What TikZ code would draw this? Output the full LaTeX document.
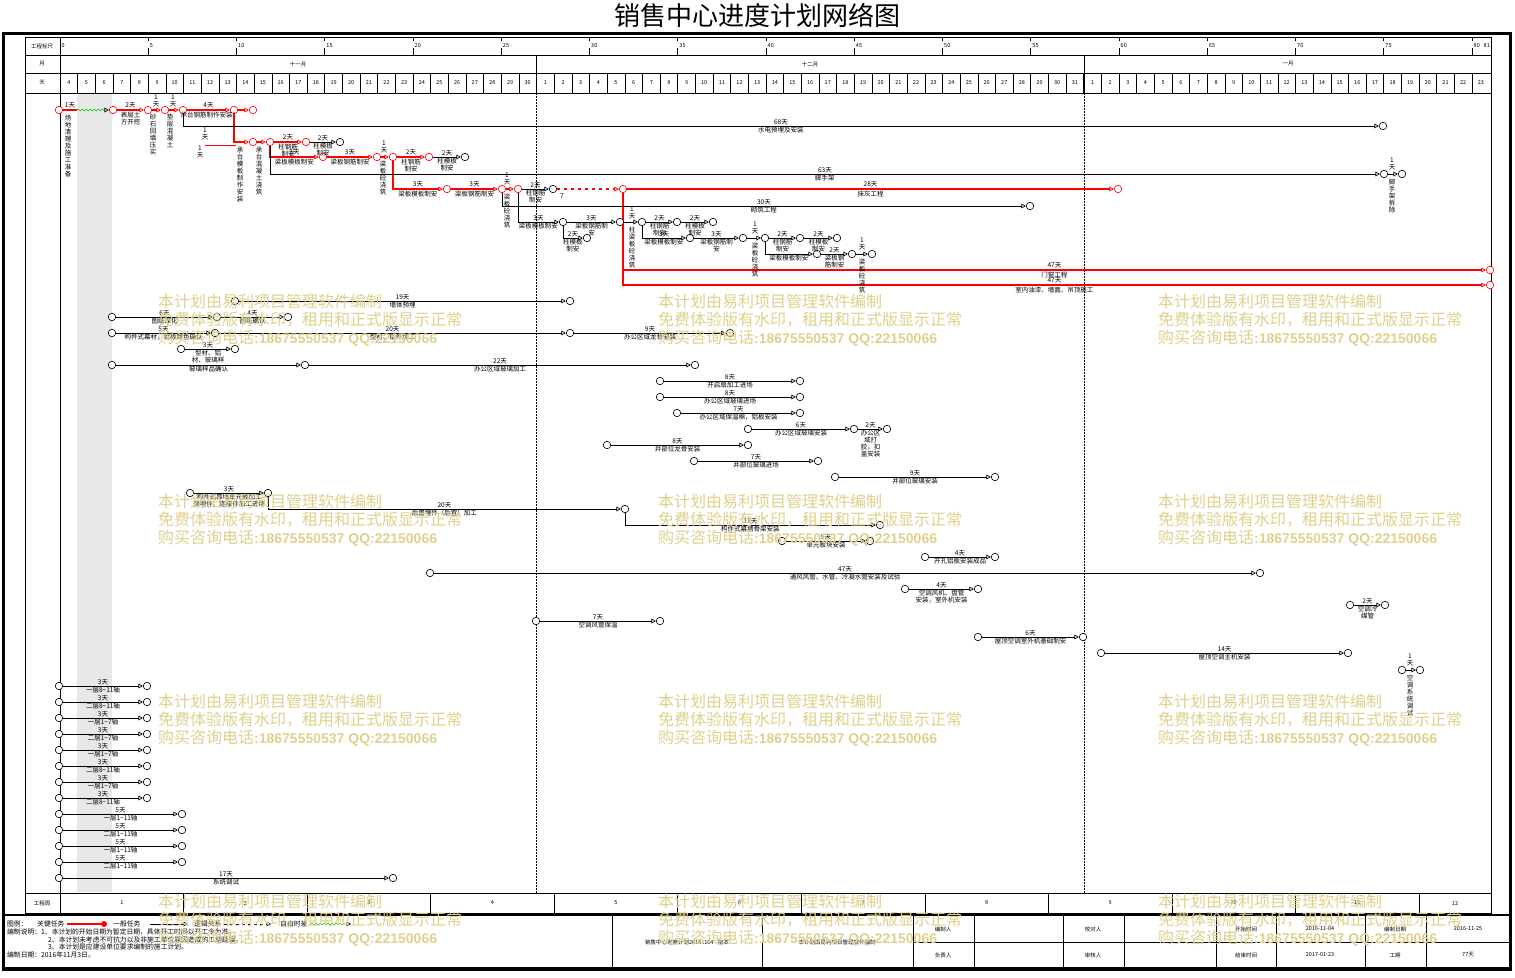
\documentclass[tikz,border=0pt]{standalone}
\usepackage{fontspec}
\setmainfont{Noto Sans CJK SC}
\newfontfamily\wmlat{Liberation Sans}
\usetikzlibrary{arrows.meta,decorations.pathmorphing}
\XeTeXlinebreaklocale "zh"
\XeTeXlinebreakskip = 0pt plus 1pt
\newcommand{\tld}{\textasciitilde}
\definecolor{wmark}{RGB}{222,208,140}
\definecolor{fgreen}{RGB}{0,200,0}
\tikzset{
  ev/.style={circle,draw,fill=white,inner sep=0pt,minimum size=7.5pt,line width=0.6pt},
  evk/.style={ev,draw=red},
  act/.style={draw,line width=0.7pt,-{Triangle[open,length=4.5pt,width=4.5pt,line width=0.6pt]}},
  crit/.style={draw=red,line width=2.8pt,-{Triangle[open,length=4.5pt,width=4.5pt,line width=0.7pt]}},
  slack/.style={draw=fgreen,line width=0.6pt,decorate,decoration={snake,amplitude=0.9pt,segment length=4pt,post length=5pt},-{Triangle[open,length=4.5pt,width=4.5pt,line width=0.6pt,color=black]}},
  dur/.style={font=\fontsize{6.5}{7}\selectfont,above=0.5pt,inner sep=0.5pt},
  nm/.style={font=\fontsize{6.5}{7}\selectfont,below=0.5pt,inner sep=0.5pt,align=center},
  vl/.style={font=\fontsize{6.5}{7}\selectfont,text width=7pt,align=center,inner sep=0pt,anchor=north},
  vd/.style={vl,anchor=south},
  hd/.style={font=\fontsize{5.5}{6}\selectfont,inner sep=0pt},
  lg/.style={font=\fontsize{6.8}{7}\selectfont,inner sep=0pt,anchor=west},
  wm/.style={font=\fontsize{16}{16}\selectfont,text=wmark,anchor=west,inner sep=0pt},
}
\begin{document}
\begin{tikzpicture}[x=1pt,y=-1pt]
\useasboundingbox (0,0) rectangle (1515,977);
\node[font=\fontsize{26}{26}\selectfont] (title) at (757,15) {销售中心进度计划网络图};

% frame and time scale
\fill[black!9] (77,94) rectangle (112,892);
\draw[line width=3.5pt] (3.5,33.5) rectangle (1510.5,969);
\draw[line width=0.8pt] (25,37) rectangle (1491,913);
\draw[line width=0.8pt] (25,55) -- (1491,55) (25,73) -- (1491,73) (25,93) -- (1491,93) (25,893) -- (1491,893);
\draw[line width=0.8pt] (60,37) -- (60,913);
\draw[line width=0.8pt] (536,55) -- (536,93) (1084,55) -- (1084,93);
\draw[line width=0.6pt,dash pattern=on 1.5pt off 1.5pt] (536,93) -- (536,893) (1084,93) -- (1084,893);
\node[hd] (h1) at (42,46) {工程标尺};
\node[hd] (h2) at (42,64) {月};
\node[hd] (h3) at (42,83) {天};
\node[hd] (h4) at (42,903) {工程周};
\node[hd] (mo1) at (298,64) {十一月};
\node[hd] (mo2) at (810,64) {十二月};
\node[hd] (mo3) at (1288,64) {一月};
\foreach \t in {0,5,...,80}{
  \draw[line width=0.8pt] ({60+\t*17.65},37) -- ({60+\t*17.65},41) ({60+\t*17.65},48) -- ({60+\t*17.65},55);
  \node[hd,anchor=west] (sc\t) at ({61.5+\t*17.65},46) {\t};
}
\node[hd,anchor=east] (sc81) at (1490,46) {81};
\foreach \i in {1,...,80}
  \draw[line width=0.6pt] ({60+\i*17.65},73) -- ({60+\i*17.65},93);
\foreach \i in {0,...,80}{
  \pgfmathtruncatemacro\dd{\i<27 ? \i+4 : (\i<58 ? \i-26 : \i-57)}
  \node[hd] (dy\i) at ({60+(\i+0.5)*17.65},83) {\dd};
}
\foreach \k in {1,...,11}{
  \draw[line width=0.6pt] ({60+7*\k*17.65},893) -- ({60+7*\k*17.65},913);
  \node[hd] (wk\k) at ({60+(7*\k-3.5)*17.65},903) {\k};
}
\node[hd] (wk12) at (1455,903) {12};

% critical path
\node[evk] (k1) at (59,110) {};
\node[evk] (k2) at (113,110) {};
\node[evk] (k3) at (148,110) {};
\node[evk] (k4) at (165,110) {};
\node[evk] (k5) at (183,110) {};
\node[evk] (k6) at (234,110) {};
\node[evk] (k7) at (253,110) {};
\node[evk] (k8) at (253,142) {};
\node[evk] (k9) at (270,142) {};
\node[evk] (k10) at (306,142) {};
\node[ev] (k11) at (340,142) {};
\node[evk] (k12) at (323,157) {};
\node[evk] (k13) at (377,157) {};
\node[evk] (k14) at (393,157) {};
\node[evk] (k15) at (429,157) {};
\node[ev] (k16) at (465,157) {};
\node[evk] (k17) at (447,189) {};
\node[evk] (k18) at (502,189) {};
\node[evk] (k19) at (518,189) {};
\node[ev] (k20) at (553,189) {};
\node[evk] (k21) at (623,189) {};
\node[evk] (k22) at (1118,189) {};
\node[evk] (k23) at (1490,270) {};
\node[evk] (k24) at (1490,285) {};
\coordinate (f1) at (77,110);

\draw[crit,-] (k1) -- (f1) node[dur,midway] {1天};
\draw[slack] (f1) -- (k2);
\draw[crit] (k2) -- (k3) node[dur,midway] {2天} node[nm,midway] {表层土\\方开挖};
\draw[crit] (k3) -- (k4);
\draw[crit] (k4) -- (k5);
\draw[crit] (k5) -- (k6) node[dur,midway] {4天} node[nm,midway] {承台钢筋制作安装1};
\draw[crit] (k6) -- (k7);
\draw[crit] (k6) |- (k8);
\draw[crit] (k8) -- (k9);
\draw[crit] (k9) -- (k10) node[dur,midway] {2天} node[nm,midway] {柱钢筋\\制安};
\draw[act] (k10) -- (k11) node[dur,midway] {2天} node[nm,midway] {柱模板\\制安};
\draw[crit] (k9) |- (k12) node[dur,pos=0.75] {3天} node[nm,pos=0.75] {梁板模板制安};
\draw[crit] (k12) -- (k13) node[dur,midway] {3天} node[nm,midway] {梁板钢筋制安};
\draw[crit] (k13) -- (k14);
\draw[crit] (k14) -- (k15) node[dur,midway] {2天} node[nm,midway] {柱钢筋\\制安};
\draw[act] (k15) -- (k16) node[dur,midway] {2天} node[nm,midway] {柱模板\\制安};
\draw[crit] (k14) |- (k17) node[dur,pos=0.75] {3天} node[nm,pos=0.75] {梁板模板制安};
\draw[crit] (k17) -- (k18) node[dur,midway] {3天} node[nm,midway] {梁板钢筋制安};
\draw[crit] (k18) -- (k19);
\draw[act] (k19) -- (k20) node[dur,midway] {2天} node[nm,midway] {柱钢筋\\制安};
\draw[crit,dash pattern=on 3pt off 4pt] (k20) -- (k21);
\draw[crit] (k21) -- (k22) node[dur,midway] {28天} node[nm,midway] {抹灰工程};
\draw[crit] (k21) |- (k23) node[dur,pos=0.75] {47天} node[nm,pos=0.75] {门窗工程};
\draw[crit] (k21) |- (k24) node[dur,pos=0.75] {47天} node[nm,pos=0.75] {室内油漆、墙面、吊顶施工};
\node[font=\fontsize{6.5}{7}\selectfont,inner sep=0pt] (s7) at (562,196) {7};

% vertical labels
\node[vl] (v1) at (68,115) {场地清理及施工准备};
\node[vd] (v2d) at (156,107) {1\\天};
\node[vl] (v2) at (153,114) {砂石回填压实};
\node[vd] (v3d) at (173,107) {1\\天};
\node[vl] (v3) at (170,114) {垫层混凝土};
\node[vl] (v4) at (240,147) {承台模板制作安装};
\node[vl] (v5) at (259,147) {承台混凝土浇筑};
\node[vd] (v6d) at (384,153) {1\\天};
\node[vl] (v6) at (383,161) {梁板砼浇筑};
\node[vd] (v7d) at (507,185) {1\\天};
\node[vl] (v7) at (507,194) {梁板砼浇筑};
\node[vd] (v8d) at (632,219) {1\\天};
\node[vl] (v8) at (632,227) {柱梁板砼浇筑};
\node[vd] (v9d) at (755,234) {1\\天};
\node[vl] (v9) at (755,243) {梁板砼浇筑};
\node[vd] (v10d) at (862,250) {1\\天};
\node[vl] (v10) at (862,259) {梁板砼浇筑};
\node[vd] (v11d) at (1392,170) {1\\天};
\node[vl] (v11) at (1392,179) {脚手架拆除};
\node[vd] (v12d) at (1410,666) {1\\天};
\node[vl] (v12) at (1410,675) {空调系统调试};
\node[vd] (v13) at (205,140) {1\\天};
\node[vl] (v14) at (200,146) {1\\天};
\coordinate (r1) at (205,145);
\coordinate (r2) at (236,145);
\draw[red,line width=0.6pt] (r1) -- (r2);

% structure
\node[ev] (n68) at (1383,126) {};
\node[ev] (n63) at (1384,174) {};
\node[ev] (n63b) at (1402,174) {};
\node[ev] (n30) at (1030,206) {};
\draw[act] (k5) |- (n68) node[dur,pos=0.75] {68天} node[nm,pos=0.75] {水电预埋及安装};
\draw[act] (k9) |- (n63) node[dur,pos=0.75] {63天} node[nm,pos=0.75] {脚手架};
\draw[act] (n63) -- (n63b);
\draw[act] (k18) |- (n30) node[dur,pos=0.75] {30天} node[nm,pos=0.75] {砌筑工程};

\node[ev] (m1) at (563,222) {};
\node[ev] (m2) at (620,222) {};
\node[ev] (m3) at (642,222) {};
\node[ev] (m4) at (677,222) {};
\node[ev] (m5) at (713,222) {};
\node[ev] (m6) at (587,238) {};
\node[ev] (m7) at (690,238) {};
\node[ev] (m8) at (743,238) {};
\node[ev] (m9) at (765,238) {};
\node[ev] (m10) at (800,238) {};
\node[ev] (m11) at (837,238) {};
\node[ev] (m12) at (817,254) {};
\node[ev] (m13) at (852,254) {};
\node[ev] (m14) at (872,254) {};
\draw[act] (k19) |- (m1) node[dur,pos=0.75] {3天} node[nm,pos=0.75] {梁板模板制安};
\draw[act] (m1) -- (m2) node[dur,midway] {3天} node[nm,midway] {梁板钢筋制\\安};
\draw[act] (m1) |- (m6) node[dur,pos=0.75] {2天} node[nm,pos=0.75] {柱模板\\制安};
\draw[act] (m2) -- (m3);
\draw[act] (m3) -- (m4) node[dur,midway] {2天} node[nm,midway] {柱钢筋\\制安};
\draw[act] (m4) -- (m5) node[dur,midway] {2天} node[nm,midway] {柱模板\\制安};
\draw[act] (m3) |- (m7) node[dur,pos=0.75] {3天} node[nm,pos=0.75] {梁板模板制安};
\draw[act] (m7) -- (m8) node[dur,midway] {3天} node[nm,midway] {梁板钢筋制\\安};
\draw[act] (m8) -- (m9);
\draw[act] (m9) -- (m10) node[dur,midway] {2天} node[nm,midway] {柱钢筋\\制安};
\draw[act] (m10) -- (m11) node[dur,midway] {2天} node[nm,midway] {柱模板\\制安};
\draw[act] (m9) |- (m12) node[nm,pos=0.75] {梁板模板制安};
\draw[act] (m12) -- (m13) node[dur,midway] {2天} node[nm,midway] {梁板钢\\筋制安};
\draw[act] (m13) -- (m14);

% curtain wall
\node[ev] (a1) at (235,301) {};
\node[ev] (a2) at (570,301) {};
\node[ev] (a3) at (112,317) {};
\node[ev] (a4) at (217,317) {};
\node[ev] (a5) at (288,317) {};
\node[ev] (a6) at (112,333) {};
\node[ev] (a7) at (215,333) {};
\node[ev] (a8) at (570,333) {};
\node[ev] (a9) at (730,333) {};
\node[ev] (a10) at (181,349) {};
\node[ev] (a11) at (235,349) {};
\node[ev] (a12) at (112,365) {};
\node[ev] (a13) at (305,365) {};
\node[ev] (a14) at (695,365) {};
\draw[act] (a1) -- (a2) node[dur,midway] {19天} node[nm,midway] {墙体预埋};
\draw[act] (a3) -- (a4) node[dur,midway] {6天} node[nm,midway] {图纸深化};
\draw[act] (a4) -- (a5) node[dur,midway] {4天} node[nm,midway] {图纸确认};
\draw[act] (a6) -- (a7) node[dur,midway] {5天} node[nm,midway] {构件式幕材，铝板颜色确认};
\draw[act] (a7) -- (a8) node[dur,midway] {20天} node[nm,midway] {型材、铝件加工};
\draw[act] (a8) -- (a9) node[dur,midway] {9天} node[nm,midway] {办公区域龙骨安装};
\draw[act] (a10) -- (a11) node[dur,midway] {3天} node[nm,midway] {型材、铝\\材、玻璃样};
\draw[act] (a12) -- (a13) node[nm,midway] {玻璃样品确认};
\draw[act] (a13) -- (a14) node[dur,midway] {22天} node[nm,midway] {办公区域玻璃加工};

\node[ev] (b1) at (660,381) {};
\node[ev] (b2) at (800,381) {};
\node[ev] (b3) at (660,397) {};
\node[ev] (b4) at (800,397) {};
\node[ev] (b5) at (677,413) {};
\node[ev] (b6) at (800,413) {};
\node[ev] (b7) at (748,429) {};
\node[ev] (b8) at (854,429) {};
\node[ev] (b9) at (887,429) {};
\node[ev] (b10) at (607,445) {};
\node[ev] (b11) at (748,445) {};
\node[ev] (b12) at (694,461) {};
\node[ev] (b13) at (818,461) {};
\node[ev] (b14) at (835,477) {};
\node[ev] (b15) at (995,477) {};
\draw[act] (b1) -- (b2) node[dur,midway] {8天} node[nm,midway] {开启扇加工进场};
\draw[act] (b3) -- (b4) node[dur,midway] {8天} node[nm,midway] {办公区域玻璃进场};
\draw[act] (b5) -- (b6) node[dur,midway] {7天} node[nm,midway] {办公区域保温棉，铝板安装};
\draw[act] (b7) -- (b8) node[dur,midway] {6天} node[nm,midway] {办公区域玻璃安装};
\draw[act] (b8) -- (b9) node[dur,midway] {2天} node[nm,midway] {办公区\\域打\\胶，扣\\盖安装};
\draw[act] (b10) -- (b11) node[dur,midway] {8天} node[nm,midway] {井部位龙骨安装};
\draw[act] (b12) -- (b13) node[dur,midway] {7天} node[nm,midway] {井部位玻璃进场};
\draw[act] (b14) -- (b15) node[dur,midway] {9天} node[nm,midway] {井部位玻璃安装};

\node[ev] (g1) at (190,493) {};
\node[ev] (g2) at (268,493) {};
\node[ev] (g3) at (625,509) {};
\node[ev] (g4) at (880,525) {};
\node[ev] (g5) at (782,541) {};
\node[ev] (g6) at (870,541) {};
\node[ev] (g7) at (925,557) {};
\node[ev] (g8) at (995,557) {};
\draw[act] (g1) -- (g2) node[dur,midway] {3天} node[nm,midway] {构件式幕墙单元板加工\\预埋件、连接件加工进场};
\draw[act] (g2) |- (g3) node[dur,pos=0.75] {20天} node[nm,pos=0.75] {后置埋件（后置）加工};
\draw[act] (g3) |- (g4) node[dur,pos=0.75] {11天} node[nm,pos=0.75] {构件式幕墙骨架安装};
\draw[act] (g5) -- (g6) node[dur,midway] {5天} node[nm,midway] {单元板块安装};
\draw[act] (g7) -- (g8) node[dur,midway] {4天} node[nm,midway] {开孔铝板安装成品};

% air conditioning
\node[ev] (c1) at (430,573) {};
\node[ev] (c2) at (1260,573) {};
\node[ev] (c3) at (905,589) {};
\node[ev] (c4) at (978,589) {};
\node[ev] (c5) at (1350,605) {};
\node[ev] (c6) at (1385,605) {};
\node[ev] (c7) at (536,621) {};
\node[ev] (c8) at (660,621) {};
\node[ev] (c9) at (978,637) {};
\node[ev] (c10) at (1083,637) {};
\node[ev] (c11) at (1101,653) {};
\node[ev] (c12) at (1348,653) {};
\node[ev] (c13) at (1402,670) {};
\node[ev] (c14) at (1420,670) {};
\draw[act] (c1) -- (c2) node[dur,midway] {47天} node[nm,midway] {通风风管、水管、冷凝水管安装及试验};
\draw[act] (c3) -- (c4) node[dur,midway] {4天} node[nm,midway] {空调风机、盘管\\安装，室外机安装};
\draw[act] (c5) -- (c6) node[dur,midway] {2天} node[nm,midway] {空调冷\\媒管};
\draw[act] (c7) -- (c8) node[dur,midway] {7天} node[nm,midway] {空调风管保温};
\draw[act] (c9) -- (c10) node[dur,midway] {6天} node[nm,midway] {屋顶空调室外机基础制安};
\draw[act] (c11) -- (c12) node[dur,midway] {14天} node[nm,midway] {屋顶空调主机安装};
\draw[act] (c13) -- (c14);

% fire system
\node[ev] (p1) at (59,686) {};
\node[ev] (q1) at (147,686) {};
\node[ev] (p2) at (59,702) {};
\node[ev] (q2) at (147,702) {};
\node[ev] (p3) at (59,718) {};
\node[ev] (q3) at (147,718) {};
\node[ev] (p4) at (59,734) {};
\node[ev] (q4) at (147,734) {};
\node[ev] (p5) at (59,750) {};
\node[ev] (q5) at (147,750) {};
\node[ev] (p6) at (59,766) {};
\node[ev] (q6) at (147,766) {};
\node[ev] (p7) at (59,782) {};
\node[ev] (q7) at (147,782) {};
\node[ev] (p8) at (59,798) {};
\node[ev] (q8) at (147,798) {};
\node[ev] (p9) at (59,814) {};
\node[ev] (q9) at (182,814) {};
\node[ev] (p10) at (59,830) {};
\node[ev] (q10) at (182,830) {};
\node[ev] (p11) at (59,846) {};
\node[ev] (q11) at (182,846) {};
\node[ev] (p12) at (59,862) {};
\node[ev] (q12) at (182,862) {};
\node[ev] (p13) at (59,878) {};
\node[ev] (q13) at (393,878) {};
\draw[act] (p1) -- (q1) node[dur,midway] {3天} node[nm,midway] {一层8\tld11轴};
\draw[act] (p2) -- (q2) node[dur,midway] {3天} node[nm,midway] {二层8\tld11轴};
\draw[act] (p3) -- (q3) node[dur,midway] {3天} node[nm,midway] {一层1\tld7轴};
\draw[act] (p4) -- (q4) node[dur,midway] {3天} node[nm,midway] {二层1\tld7轴};
\draw[act] (p5) -- (q5) node[dur,midway] {3天} node[nm,midway] {一层1\tld7轴};
\draw[act] (p6) -- (q6) node[dur,midway] {3天} node[nm,midway] {二层8\tld11轴};
\draw[act] (p7) -- (q7) node[dur,midway] {3天} node[nm,midway] {一层1\tld7轴};
\draw[act] (p8) -- (q8) node[dur,midway] {3天} node[nm,midway] {二层8\tld11轴};
\draw[act] (p9) -- (q9) node[dur,midway] {5天} node[nm,midway] {一层1\tld11轴};
\draw[act] (p10) -- (q10) node[dur,midway] {5天} node[nm,midway] {二层1\tld11轴};
\draw[act] (p11) -- (q11) node[dur,midway] {5天} node[nm,midway] {一层1\tld11轴};
\draw[act] (p12) -- (q12) node[dur,midway] {5天} node[nm,midway] {二层1\tld11轴};
\draw[act] (p13) -- (q13) node[dur,midway] {17天} node[nm,midway] {系统调试};

% legend and title block
\draw[line width=1.5pt] (3.5,915) -- (1510.5,915);
\foreach \x in {612,762,913,974,1063,1124,1216,1276,1365,1426}
  \draw[line width=0.8pt] (\x,915) -- (\x,969);
\draw[line width=0.8pt] (913,942) -- (1510.5,942);
\node[lg] (lg1) at (7,924) {图例：};
\node[lg] (lg2) at (37,924) {关键任务};
\coordinate (lr1) at (67,924);
\node[circle,fill=red,inner sep=0pt,minimum size=6pt] (lr2) at (104,924) {};
\draw[red,line width=2.8pt] (lr1) -- (lr2);
\node[lg] (lg3) at (113,924) {一般任务};
\coordinate (lb1) at (150,924);
\coordinate (lb2) at (188,924);
\draw[act] (lb1) -- (lb2);
\node[lg] (lg4) at (194,924) {逻辑关系};
\coordinate (ld1) at (224,924);
\coordinate (ld2) at (271,924);
\draw[act,dash pattern=on 3pt off 3pt] (ld1) -- (ld2);
\node[lg] (lg5) at (280,924) {自由时差};
\coordinate (lf1) at (311,924);
\coordinate (lf2) at (351,924);
\draw[slack] (lf1) -- (lf2);
\node[lg] (lg6) at (7,932) {编制说明：1、本计划的开始日期为暂定日期，具体开工时间以开工令为准。};
\node[lg] (lg7) at (48,940) {2、本计划未考虑不可抗力以及非施工单位原因造成的工期延误。};
\node[lg] (lg8) at (48,947) {3、本计划是应建设单位要求编制的施工计划。};
\node[lg] (lg9) at (7,955) {编制日期：2016年11月3日。};
\node[hd] (tb1) at (687,942) {销售中心进度计划20161104 - 副本};
\node[hd] (tb2) at (837,942) {本计划由易利项目管理软件编制};
\node[hd] (tb3) at (943,929) {编制人};
\node[hd] (tb4) at (943,955) {负责人};
\node[hd] (tb5) at (1093,929) {校对人};
\node[hd] (tb6) at (1093,955) {审核人};
\node[hd] (tb7) at (1246,929) {开始时间};
\node[hd] (tb8) at (1246,955) {结束时间};
\node[hd] (tb9) at (1320,929) {2016-11-04};
\node[hd] (tb10) at (1320,955) {2017-01-23};
\node[hd] (tb11) at (1395,929) {编制日期};
\node[hd] (tb12) at (1395,955) {工期};
\node[hd] (tb13) at (1468,929) {2016-11-25};
\node[hd] (tb14) at (1468,955) {77天};

% watermark
\foreach \wx in {158,658,1158}{
  \foreach \wy in {301,501,701,901}{
    \node[wm] (wa\wx-\wy) at (\wx,\wy) {本计划由易利项目管理软件编制};
    \node[wm] (wb\wx-\wy) at (\wx,\wy+19) {免费体验版有水印，租用和正式版显示正常};
    \node[wm] (wc\wx-\wy) at (\wx,\wy+37) {购买咨询电话{\wmlat\bfseries\fontsize{14}{14}\selectfont :18675550537 QQ:22150066}};
  }
}
\end{tikzpicture}
\end{document}
